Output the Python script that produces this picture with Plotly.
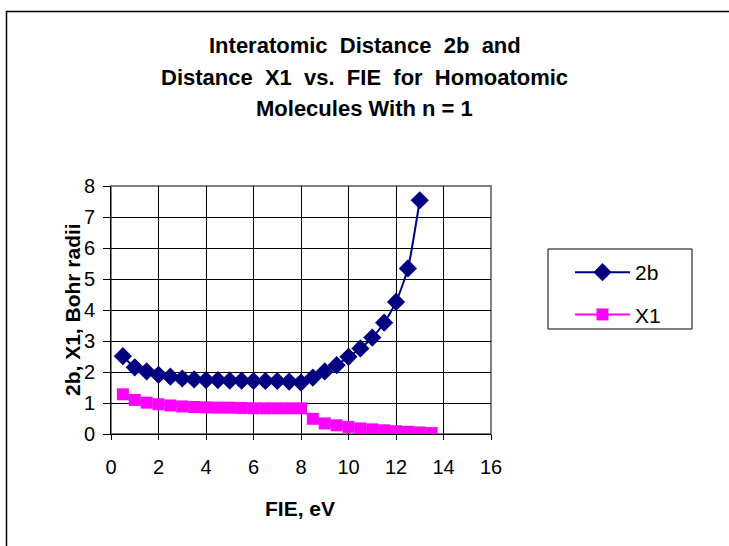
import plotly.graph_objects as go

fie_2b = [0.5, 1.0, 1.5, 2.0, 2.5, 3.0, 3.5, 4.0, 4.5, 5.0, 5.5, 6.0, 6.5,
          7.0, 7.5, 8.0, 8.5, 9.0, 9.5, 10.0, 10.5, 11.0, 11.5, 12.0, 12.5, 13.0]
val_2b = [2.51, 2.15, 2.02, 1.91, 1.85, 1.79, 1.76, 1.74, 1.74, 1.72, 1.72, 1.71, 1.71,
          1.71, 1.69, 1.66, 1.82, 2.02, 2.22, 2.49, 2.76, 3.11, 3.59, 4.26, 5.34, 7.54]

fie_x1 = [0.5, 1.0, 1.5, 2.0, 2.5, 3.0, 3.5, 4.0, 4.5, 5.0, 5.5, 6.0, 6.5, 7.0,
          7.5, 8.0, 8.5, 9.0, 9.5, 10.0, 10.5, 11.0, 11.5, 12.0, 12.5, 13.0, 13.5]
val_x1 = [1.28, 1.10, 1.01, 0.96, 0.92, 0.89, 0.87, 0.86, 0.85, 0.85, 0.84, 0.83, 0.83, 0.83,
          0.83, 0.83, 0.49, 0.34, 0.28, 0.23, 0.18, 0.15, 0.12, 0.09, 0.07, 0.05, 0.03]

title_lines = ["Interatomic  Distance  2b  and",
               "Distance  X1  vs.  FIE  for  Homoatomic",
               "Molecules With n = 1"]
x_title = "FIE, eV"
y_title = "2b, X1, Bohr radii"

W, H = 729, 546
L, R, T, B = 111, 238, 186, 112
pw, ph = W - L - R, H - T - B

def px_x(p):
    return (p - L) / pw

def px_y(p):
    return (H - B - p) / ph

font = "Arial, Liberation Sans, sans-serif"

fig = go.Figure()
fig.add_trace(go.Scatter(
    x=fie_2b, y=val_2b, name="2b", mode="lines+markers",
    line=dict(color="#000080", width=2, shape="spline", smoothing=0.6),
    marker=dict(symbol="diamond", size=14, color="#000080"),
    legendgroup="a"))
fig.add_trace(go.Scatter(
    x=fie_x1, y=val_x1, name="X1", mode="lines+markers",
    line=dict(color="#FF00FF", width=2),
    marker=dict(symbol="square", size=12, color="#FF00FF"),
    legendgroup="b"))

title_y = [45, 77, 108]
annotations = [
    dict(text="<b>%s</b>" % t, xref="paper", yref="paper",
         x=px_x(364.5), y=px_y(yy), xanchor="center", yanchor="middle",
         showarrow=False, font=dict(family=font, size=22))
    for t, yy in zip(title_lines, title_y)
]
annotations += [
    dict(text="<b>%s</b>" % x_title, xref="paper", yref="paper",
         x=px_x(300), y=px_y(508), xanchor="center", yanchor="middle",
         showarrow=False, font=dict(family=font, size=21)),
    dict(text="<b>%s</b>" % y_title, xref="paper", yref="paper",
         x=px_x(72), y=px_y(310), xanchor="center", yanchor="middle",
         textangle=-90, showarrow=False, font=dict(family=font, size=21)),
]

fig.update_layout(
    width=W, height=H,
    margin=dict(l=L, r=R, t=T, b=B),
    paper_bgcolor="white", plot_bgcolor="white",
    font=dict(family=font, color="black", size=20),
    showlegend=True,
    legend=dict(x=px_x(570), y=px_y(252), xanchor="left", yanchor="top",
                borderwidth=0, bgcolor="rgba(0,0,0,0)",
                font=dict(family=font, size=21, color="black"),
                itemwidth=55, tracegroupgap=12, traceorder="grouped"),
    xaxis=dict(range=[0, 16], dtick=2, tick0=0, showgrid=True, gridcolor="black", gridwidth=1,
               showline=True, linecolor="black", linewidth=1, zeroline=False,
               ticks="outside", ticklen=5, tickcolor="black",
               tickfont=dict(family=font, size=20), ticklabelstandoff=10),
    yaxis=dict(range=[0, 8], dtick=1, tick0=0, showgrid=True, gridcolor="black", gridwidth=1,
               showline=True, linecolor="black", linewidth=1, zeroline=False,
               ticks="outside", ticklen=7, tickcolor="black",
               tickfont=dict(family=font, size=20), ticklabelstandoff=4),
    shapes=[
        dict(type="rect", xref="paper", yref="paper", x0=0, x1=1, y0=0, y1=1,
             line=dict(color="#808080", width=2), layer="between"),
        dict(type="rect", xref="paper", yref="paper",
             x0=px_x(6.5), x1=px_x(760), y0=px_y(11.5), y1=px_y(580),
             line=dict(color="black", width=1.5), layer="above"),
        dict(type="rect", xref="paper", yref="paper",
             x0=px_x(548), x1=px_x(692), y0=px_y(249), y1=px_y(329),
             line=dict(color="black", width=1), layer="above"),
    ],
    annotations=annotations,
)

fig.write_html("out.html")
